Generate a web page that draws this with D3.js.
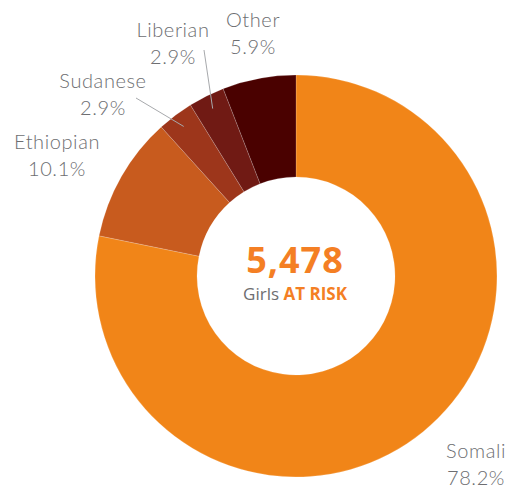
<!DOCTYPE html>
<html><head><meta charset="utf-8">
<script src="https://cdn.jsdelivr.net/npm/d3@7"></script>
<style>html,body{margin:0;padding:0;background:#fff;}svg{display:block;}</style>
</head><body>
<svg id="chart" width="511" height="489"></svg>
<script>
const categories = ["Somali", "Ethiopian", "Sudanese", "Liberian", "Other"];
const values = [78.2, 10.1, 2.9, 2.9, 5.9];
const colors = ["#F18518", "#C85B1E", "#9D361B", "#701A14", "#4A0100"];
const totalLabel = "5,478";

// label layout (pixel anchors for text and leader lines)
const labelPos = {
  "Somali":    {x: 476, y: 458, line: null},
  "Ethiopian": {x: 57,  y: 149, line: null},
  "Sudanese":  {x: 103, y: 88,  line: [136, 98]},
  "Liberian":  {x: 173, y: 37,  line: [204, 50]},
  "Other":     {x: 253, y: 27,  line: null}
};

const svg = d3.select("#chart");
const cx = 296, cy = 276, rOuter = 201, rInner = 99;
const g = svg.append("g").attr("transform", `translate(${cx},${cy})`);

const pie = d3.pie().sort(null).value(d => d.v).startAngle(0).endAngle(2 * Math.PI);
const data = categories.map((c, i) => ({c, v: values[i], col: colors[i]}));
const arcs = pie(data);
const arc = d3.arc().innerRadius(rInner).outerRadius(rOuter);

g.selectAll("path.slice").data(arcs).enter().append("path")
  .attr("class", "slice")
  .attr("d", arc)
  .attr("fill", d => d.data.col)
  .attr("stroke", "#fff")
  .attr("stroke-opacity", 0.6)
  .attr("stroke-width", 0.3);

const lineArc = d3.arc().innerRadius(187).outerRadius(187);
arcs.forEach(a => {
  const p = labelPos[a.data.c];
  if (p.line) {
    const [ex, ey] = lineArc.centroid(a);
    svg.append("line")
      .attr("x1", p.line[0]).attr("y1", p.line[1])
      .attr("x2", cx + ex).attr("y2", cy + ey)
      .attr("stroke", "#a7a9ac").attr("stroke-width", 1);
  }
  const t = svg.append("text")
    .attr("x", p.x).attr("y", p.y)
    .attr("text-anchor", "middle")
    .attr("font-family", "Lato, 'Open Sans', sans-serif")
    .attr("font-weight", 300)
    .attr("font-size", 20)
    .attr("letter-spacing", 0.6)
    .attr("fill", "#6d6e71");
  t.append("tspan").attr("x", p.x).text(a.data.c);
  t.append("tspan").attr("x", p.x).attr("dy", 26.5).text(a.data.v.toFixed(1) + "%");
});

// center text
svg.append("text")
  .attr("x", cx - 1).attr("y", 273)
  .attr("text-anchor", "middle")
  .attr("font-family", "'Open Sans', sans-serif")
  .attr("font-weight", 700)
  .attr("font-size", 36)
  .attr("letter-spacing", 1)
  .attr("fill", "#F47F24")
  .text(totalLabel);

const sub = svg.append("text")
  .attr("x", cx - 1).attr("y", 300)
  .attr("text-anchor", "middle")
  .attr("font-family", "'Open Sans', sans-serif")
  .attr("font-size", 17)
  .attr("letter-spacing", 0);
sub.append("tspan").attr("fill", "#6d6e71").text("Girls ");
sub.append("tspan").attr("fill", "#F47F24").attr("font-weight", 700).text("AT RISK");
</script>
</body></html>
